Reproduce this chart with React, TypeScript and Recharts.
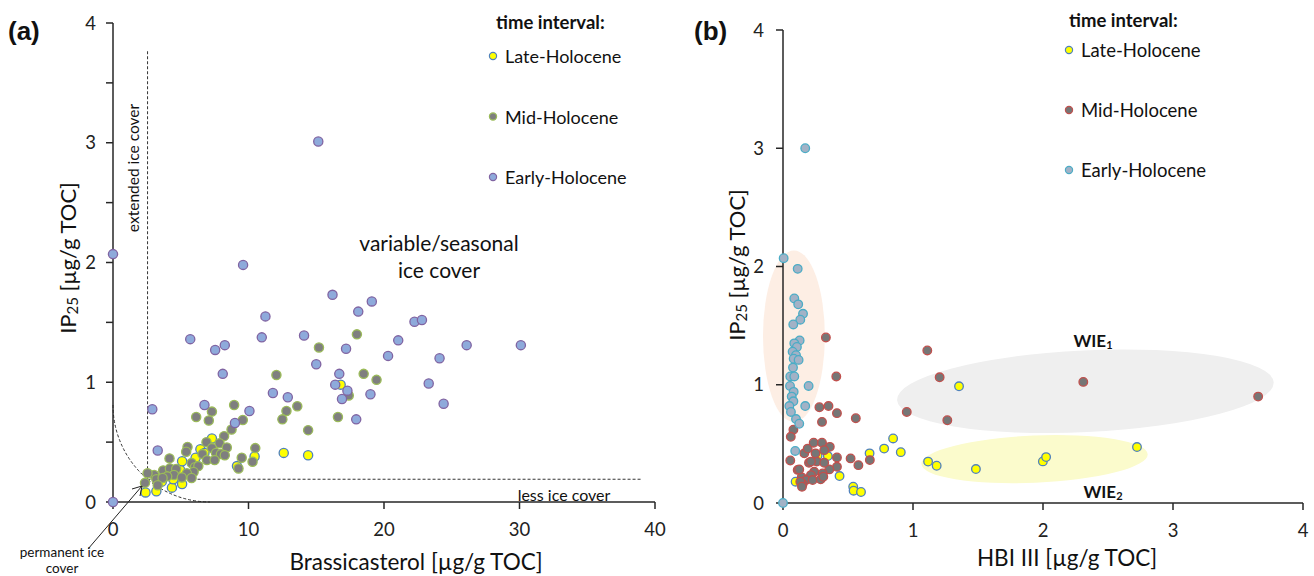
import React from 'react';
import { ScatterChart, Scatter, XAxis, YAxis, ReferenceLine, ReferenceArea } from 'recharts';

// ---------- Panel (a): Brassicasterol vs IP25 ----------
const lateA: number[][] = [
  [2.4, 0.08], [3.2, 0.09], [3.6, 0.17], [4.35, 0.12], [4.45, 0.19], [5.1, 0.15], [4.95, 0.27],
  [5.1, 0.34], [6.1, 0.37], [6.45, 0.44], [6.75, 0.41], [7.3, 0.53], [9.15, 0.3], [10.45, 0.38],
  [12.6, 0.41], [14.4, 0.39], [16.8, 0.98],
];
const midA: number[][] = [
  [18.0, 1.4], [15.2, 1.29], [12.06, 1.06], [18.5, 1.07], [19.45, 1.02], [17.4, 0.89], [16.6, 0.71],
  [13.6, 0.8], [12.8, 0.76], [12.5, 0.69], [14.4, 0.6], [8.94, 0.81], [7.3, 0.755], [6.14, 0.71],
  [7.07, 0.68], [9.58, 0.685], [8.75, 0.605], [8.2, 0.55], [10.5, 0.45], [9.5, 0.37], [10.3, 0.336],
  [9.26, 0.28], [7.86, 0.49], [8.4, 0.455], [6.9, 0.5], [5.5, 0.46], [5.4, 0.42], [7.3, 0.45],
  [7.6, 0.41], [7.96, 0.4], [8.25, 0.39], [6.6, 0.4], [6.93, 0.35], [7.5, 0.35], [4.17, 0.364],
  [3.7, 0.264], [4.2, 0.28], [4.66, 0.275], [5.8, 0.325], [6.05, 0.29], [6.3, 0.3], [5.95, 0.25],
  [5.45, 0.24], [4.5, 0.225], [4.0, 0.214], [3.04, 0.225], [2.55, 0.24], [3.2, 0.19], [3.66, 0.2],
  [5.08, 0.205], [5.8, 0.2], [2.36, 0.16], [3.3, 0.14],
];
const earlyA: number[][] = [
  [0, 2.07], [0, 0], [15.15, 3.01], [9.6, 1.98], [16.2, 1.73], [19.1, 1.675], [18.1, 1.59],
  [11.25, 1.55], [22.25, 1.505], [22.8, 1.52], [5.7, 1.36], [7.54, 1.27], [8.25, 1.31],
  [10.98, 1.375], [14.1, 1.39], [21.05, 1.35], [17.2, 1.28], [20.3, 1.22], [26.1, 1.31],
  [30.1, 1.31], [24.1, 1.2], [15.0, 1.15], [8.1, 1.07], [16.7, 1.07], [16.4, 0.98], [17.3, 0.93],
  [16.9, 0.86], [19.0, 0.9], [23.3, 0.99], [24.4, 0.82], [17.95, 0.69], [11.8, 0.91], [12.9, 0.875],
  [6.75, 0.81], [10.07, 0.76], [9.0, 0.66], [2.9, 0.775], [3.3, 0.43],
];
const xTicksA = [0, 10, 20, 30, 40];
const yTicksA = [0, 0.5, 1, 1.5, 2, 2.5, 3, 3.5, 4];

// thresholds drawn in panel (a)
const iceX = 2.55;
const iceY = 0.19;
const iceTop = 3.78;
const lessEnd = 39.0;
const arcX = 7.16;
const arcY = 0.81;

// ---------- Panel (b): HBI III vs IP25 ----------
const lateB: number[][] = [
  [1.354, 0.987], [0.847, 0.546], [0.778, 0.46], [0.906, 0.43], [1.116, 0.35], [1.182, 0.315],
  [1.484, 0.287], [1.999, 0.352], [2.024, 0.388], [2.723, 0.473], [0.666, 0.42], [0.435, 0.228],
  [0.345, 0.397], [0.266, 0.4], [0.54, 0.138], [0.543, 0.104], [0.6, 0.093], [0.097, 0.18],
];
const midB: number[][] = [
  [0.33, 1.4], [1.11, 1.29], [0.41, 1.07], [1.205, 1.063], [2.31, 1.024], [3.655, 0.9], [0.28, 0.81],
  [0.35, 0.82], [0.415, 0.76], [0.56, 0.717], [0.3, 0.686], [0.952, 0.77], [1.264, 0.7], [0.08, 0.62],
  [0.06, 0.56], [0.056, 0.36], [0.164, 0.42], [0.19, 0.46], [0.236, 0.51], [0.3, 0.51], [0.36, 0.475],
  [0.415, 0.385], [0.52, 0.377], [0.58, 0.32], [0.668, 0.363], [0.415, 0.306], [0.356, 0.284],
  [0.26, 0.35], [0.2, 0.34], [0.25, 0.42], [0.317, 0.447], [0.113, 0.28], [0.24, 0.264], [0.305, 0.25],
  [0.144, 0.217], [0.215, 0.236], [0.177, 0.194], [0.228, 0.194], [0.151, 0.16], [0.29, 0.2],
  [0.31, 0.222], [0.125, 0.284], [0.133, 0.18], [0.146, 0.138], [0.215, 0.35], [0.317, 0.34],
];
const earlyB: number[][] = [
  [0, 0], [0.005, 2.07], [0.113, 1.98], [0.171, 3.0], [0.087, 1.73], [0.117, 1.68], [0.154, 1.6],
  [0.133, 1.55], [0.079, 1.51], [0.128, 1.375], [0.087, 1.35], [0.107, 1.32], [0.074, 1.28],
  [0.1, 1.25], [0.082, 1.22], [0.12, 1.21], [0.077, 1.145], [0.056, 1.07], [0.087, 1.07],
  [0.197, 0.99], [0.054, 0.99], [0.082, 0.94], [0.067, 0.9], [0.08, 0.86], [0.171, 0.82],
  [0.049, 0.82], [0.061, 0.77], [0.1, 0.71], [0.125, 0.67], [0.094, 0.44],
];
const xTicksB = [0, 1, 2, 3, 4];
const yTicksB = [0, 1, 2, 3, 4];

// ellipses in panel (b): [centerX, centerY, radiusX, radiusY, rotationDeg]
const ellEarly = [0.084, 1.41, 0.238, 0.726, 0];
const ellWIE1 = [2.326, 0.945, 1.45, 0.346, -2.7];
const ellWIE2 = [1.935, 0.371, 0.871, 0.2, -2.5];

const legendLabels = ['Late-Holocene', 'Mid-Holocene', 'Early-Holocene'];

const toPts = (arr: number[][]) => arr.map(([x, y]) => ({ x, y }));

const dot = (fill: string, stroke: string, r: number) => (p: any) => (
  <circle cx={p.cx} cy={p.cy} r={r} fill={fill} stroke={stroke} strokeWidth={1.3} />
);

const ellipseShape = (fill: string, angle: number) => (p: any) => {
  const cx = p.x + p.width / 2;
  const cy = p.y + p.height / 2;
  return (
    <ellipse cx={cx} cy={cy} rx={Math.abs(p.width) / 2} ry={Math.abs(p.height) / 2} fill={fill}
      transform={`rotate(${angle} ${cx} ${cy})`} />
  );
};

const arcShape = (p: any) => (
  <path d={`M ${p.x} ${p.y} A ${p.width} ${p.height} 0 0 0 ${p.x + p.width} ${p.y + p.height}`}
    fill="none" stroke="#333" strokeWidth={1} strokeDasharray="3 2" />
);

const AX = '#262626';
const FONT = 'Lato, "Noto Sans", sans-serif';

const colA = {
  late: ['#ffff00', '#4f81bd'],
  mid: ['#7f7f7f', '#9bbb59'],
  early: ['#8eaadb', '#8064a2'],
};
const colB = {
  late: ['#ffff00', '#4f81bd'],
  mid: ['#767676', '#c0504d'],
  early: ['#a2b2c6', '#4bacc6'],
};

const ell = (e: number[], fill: string) => (
  <ReferenceArea x1={e[0] - e[2]} x2={e[0] + e[2]} y1={e[1] - e[3]} y2={e[1] + e[3]}
    ifOverflow="visible" shape={ellipseShape(fill, e[4])} />
);

export default function App() {
  const tickStyle = { fontSize: 18.5, fill: '#222', fontFamily: FONT };
  return (
    <div style={{ position: 'absolute', left: 0, top: 0, width: 1314, height: 576, background: '#fff', fontFamily: FONT }}>
      <div style={{ position: 'absolute', left: 0, top: 0 }}>
        <ScatterChart width={680} height={576} margin={{ top: 23, right: 25, left: 0, bottom: 0 }}>
          <XAxis type="number" dataKey="x" domain={[0, 40]} ticks={xTicksA} interval={0}
            height={74} tickSize={7} tickMargin={14} tick={tickStyle}
            axisLine={{ stroke: AX, strokeWidth: 1.5 }} tickLine={{ stroke: AX, strokeWidth: 1.5 }} />
          <YAxis type="number" dataKey="y" domain={[0, 4]} ticks={yTicksA} interval={0}
            width={113} tickSize={7} tickMargin={10} tick={tickStyle}
            tickFormatter={(v: number) => (Number.isInteger(v) ? String(v) : '')}
            axisLine={{ stroke: AX, strokeWidth: 1.5 }} tickLine={{ stroke: AX, strokeWidth: 1.5 }} />
          <ReferenceArea x1={0} x2={arcX} y1={0} y2={arcY} ifOverflow="visible" shape={arcShape} />
          <ReferenceLine segment={[{ x: iceX, y: iceY }, { x: iceX, y: iceTop }]} stroke="#333"
            strokeDasharray="3 2" strokeWidth={1} ifOverflow="visible" />
          <ReferenceLine segment={[{ x: iceX, y: iceY }, { x: lessEnd, y: iceY }]} stroke="#333"
            strokeDasharray="3 2" strokeWidth={1} ifOverflow="visible" />
          <Scatter data={toPts(lateA)} shape={dot(colA.late[0], colA.late[1], 4.6)} isAnimationActive={false} />
          <Scatter data={toPts(midA)} shape={dot(colA.mid[0], colA.mid[1], 4.6)} isAnimationActive={false} />
          <Scatter data={toPts(earlyA)} shape={dot(colA.early[0], colA.early[1], 4.6)} isAnimationActive={false} />
        </ScatterChart>
      </div>
      <div style={{ position: 'absolute', left: 680, top: 0 }}>
        <ScatterChart width={634} height={576} margin={{ top: 30, right: 11, left: 0, bottom: 0 }}>
          {ell(ellEarly, '#fdeee4')}
          {ell(ellWIE1, '#efefef')}
          {ell(ellWIE2, '#fbfbcc')}
          <XAxis type="number" dataKey="x" domain={[0, 4]} ticks={xTicksB} interval={0}
            height={73} tickSize={7} tickMargin={14} tick={tickStyle}
            axisLine={{ stroke: AX, strokeWidth: 1.5 }} tickLine={{ stroke: AX, strokeWidth: 1.5 }} />
          <YAxis type="number" dataKey="y" domain={[0, 4]} ticks={yTicksB} interval={0}
            width={103} tickSize={7} tickMargin={12} tick={tickStyle}
            axisLine={{ stroke: AX, strokeWidth: 1.5 }} tickLine={{ stroke: AX, strokeWidth: 1.5 }} />
          <Scatter data={toPts(lateB)} shape={dot(colB.late[0], colB.late[1], 4.3)} isAnimationActive={false} />
          <Scatter data={toPts(midB)} shape={dot(colB.mid[0], colB.mid[1], 4.3)} isAnimationActive={false} />
          <Scatter data={toPts(earlyB)} shape={dot(colB.early[0], colB.early[1], 4.3)} isAnimationActive={false} />
        </ScatterChart>
      </div>
      <svg width={1314} height={576} style={{ position: 'absolute', left: 0, top: 0, pointerEvents: 'none' }}
        fontFamily={FONT} fill="#111">
        {/* panel labels */}
        <text x={8} y={40} fontSize={26} fontWeight="bold" fontFamily="Liberation Sans, Arial, sans-serif">(a)</text>
        <text x={694} y={40} fontSize={26} fontWeight="bold" fontFamily="Liberation Sans, Arial, sans-serif">(b)</text>

        {/* legend a */}
        <text x={496} y={22} fontSize={18.5} fontWeight="bold" dominantBaseline="central">time interval:</text>
        {[colA.late, colA.mid, colA.early].map((c, i) => (
          <g key={i}>
            <circle cx={493} cy={56 + i * 60.5} r={3.6} fill={c[0]} stroke={c[1]} strokeWidth={1.2} />
            <text x={505} y={56 + i * 60.5} fontSize={18} dominantBaseline="central">{legendLabels[i]}</text>
          </g>
        ))}
        {/* legend b */}
        <text x={1069} y={20} fontSize={18.5} fontWeight="bold" dominantBaseline="central">time interval:</text>
        {[colB.late, colB.mid, colB.early].map((c, i) => (
          <g key={i}>
            <circle cx={1069} cy={50 + i * 60} r={3.6} fill={c[0]} stroke={c[1]} strokeWidth={1.2} />
            <text x={1081} y={50 + i * 60} fontSize={18.5} dominantBaseline="central">{legendLabels[i]}</text>
          </g>
        ))}

        {/* annotations panel a */}
        <text x={133} y={168} fontSize={15.5} textAnchor="middle" dominantBaseline="central"
          transform="rotate(-90 133 168)">extended ice cover</text>
        <text x={439} y={242} fontSize={21} textAnchor="middle" dominantBaseline="central">variable/seasonal</text>
        <text x={439} y={269} fontSize={21} textAnchor="middle" dominantBaseline="central">ice cover</text>
        <text x={564} y={494} fontSize={16} textAnchor="middle" dominantBaseline="central">less ice cover</text>
        <text x={62} y={552} fontSize={13.5} textAnchor="middle" dominantBaseline="central">permanent ice</text>
        <text x={62} y={568} fontSize={13.5} textAnchor="middle" dominantBaseline="central">cover</text>
        <line x1={88} y1={549} x2={142} y2={486} stroke="#222" strokeWidth={1} />
        <polyline points="132,489 142,486 140,496" fill="none" stroke="#222" strokeWidth={1} />

        {/* annotations panel b */}
        <text x={1093} y={340} fontSize={17} fontWeight="bold" textAnchor="middle" dominantBaseline="central">
          WIE<tspan fontSize={11} dy={4}>1</tspan>
        </text>
        <text x={1103} y={491} fontSize={17} fontWeight="bold" textAnchor="middle" dominantBaseline="central">
          WIE<tspan fontSize={11} dy={4}>2</tspan>
        </text>

        {/* axis titles */}
        <text x={416} y={561} fontSize={22.5} textAnchor="middle" dominantBaseline="central">Brassicasterol [µg/g TOC]</text>
        <text x={1067} y={557} fontSize={22.5} textAnchor="middle" dominantBaseline="central">HBI III [µg/g TOC]</text>
        <text x={67} y={258} fontSize={22} textAnchor="middle" dominantBaseline="central" transform="rotate(-90 67 258)">
          IP<tspan fontSize={15} dy={5}>25</tspan><tspan dy={-5}> [µg/g TOC]</tspan>
        </text>
        <text x={736} y={265} fontSize={22} textAnchor="middle" dominantBaseline="central" transform="rotate(-90 736 265)">
          IP<tspan fontSize={15} dy={5}>25</tspan><tspan dy={-5}> [µg/g TOC]</tspan>
        </text>
      </svg>
    </div>
  );
}
